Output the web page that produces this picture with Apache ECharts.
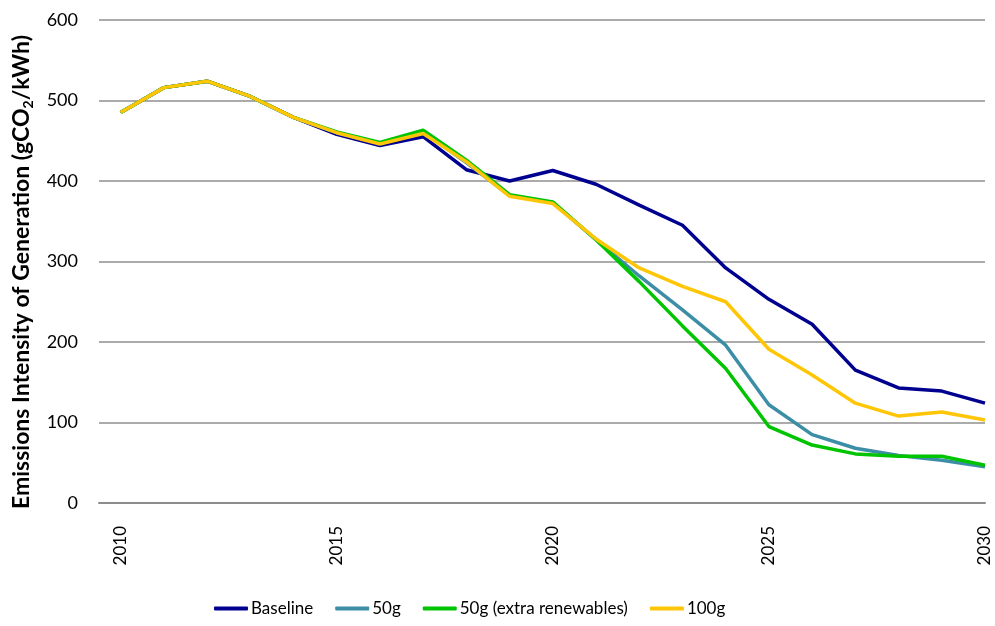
<!DOCTYPE html>
<html>
<head>
<meta charset="utf-8">
<script src="https://cdn.jsdelivr.net/npm/echarts@6/dist/echarts.min.js"></script>
<style>
html,body{margin:0;padding:0;background:#fff;}
#chart{width:995px;height:626px;}
</style>
</head>
<body>
<div id="chart"></div>
<script>
var years = [2010, 2011, 2012, 2013, 2014, 2015, 2016, 2017, 2018, 2019, 2020, 2021, 2022, 2023, 2024, 2025, 2026, 2027, 2028, 2029, 2030];
var xTickLabels = [2010, 2015, 2020, 2025, 2030];
var seriesNames = ['Baseline', '50g', '50g (extra renewables)', '100g'];
var baseline = [485, 516, 524, 505, 479, 458, 444, 455, 414, 400, 413, 396, 370, 345, 292, 253, 222, 165, 143, 139, 124];
var g50 = [485, 516, 524, 505, 479, 460, 447, 461, 423, 382, 373, 327, 282, 240, 196, 122, 85, 68, 59, 53, 45];
var g50ren = [485, 516, 524, 505, 479, 461, 448, 463, 426, 383, 374, 327, 275, 220, 167, 95, 72, 61, 58, 58, 47];
var g100 = [485, 516, 524, 505, 479, 460, 446, 459, 424, 381, 372, 328, 292, 269, 250, 191, 159, 124, 108, 113, 103];
var yTitle = 'Emissions Intensity of Generation (gCO{sub|2}/kWh)';
var colors = ['#000090', '#3B8EA5', '#00C400', '#FFC607'];

function pairs(vals) { return years.map(function (y, i) { return [y, vals[i]]; }); }
var allVals = [baseline, g50, g50ren, g100];

var FONT = 'Lato, "Open Sans", sans-serif';
var chart = echarts.init(document.getElementById('chart'), null, {renderer: 'canvas'});
chart.setOption({
  animation: false,
  textStyle: {fontFamily: FONT},
  grid: {left: 99, right: 10, top: 20, bottom: 123, containLabel: false, outerBoundsMode: 'none'},
  graphic: [{
    type: 'text',
    x: 22,
    y: 272,
    rotation: Math.PI / 2,
    style: {
      text: yTitle,
      fontSize: 23,
      fontWeight: 'bold',
      fontFamily: FONT,
      fill: '#000',
      align: 'center',
      verticalAlign: 'middle',
      rich: {sub: {fontSize: 14, fontWeight: 'bold', fontFamily: FONT, fill: '#000', padding: [12, 0, 0, 0]}}
    }
  }],
  legend: {
    bottom: 4,
    left: 209,
    itemWidth: 34,
    itemHeight: 4,
    itemGap: 22,
    icon: 'roundRect',
    textStyle: {fontSize: 17, color: '#000', fontFamily: FONT, padding: [0, 0, 0, -2]},
    data: seriesNames
  },
  xAxis: {
    type: 'value',
    min: 2009.5,
    max: 2030,
    axisLine: {show: true, lineStyle: {color: '#8C8C8C', width: 2}},
    axisTick: {show: false},
    splitLine: {show: false},
    axisLabel: {
      customValues: xTickLabels,
      rotate: 90,
      margin: 23,
      fontSize: 17,
      color: '#000',
      fontFamily: FONT,
      formatter: function (v) { return String(v); }
    }
  },
  yAxis: {
    type: 'value',
    min: 0,
    max: 600,
    interval: 100,
    axisLine: {show: false},
    axisTick: {show: false},
    splitLine: {lineStyle: {color: '#ABABAB', width: 2}},
    axisLabel: {fontSize: 18, color: '#000', margin: 21, fontFamily: FONT}
  },
  series: seriesNames.map(function (n, i) {
    return {
      name: n,
      type: 'line',
      data: pairs(allVals[i]),
      symbol: 'none',
      color: colors[i],
      lineStyle: {width: 3.5, color: colors[i]},
      z: 2 + i
    };
  })
});
</script>
</body>
</html>
